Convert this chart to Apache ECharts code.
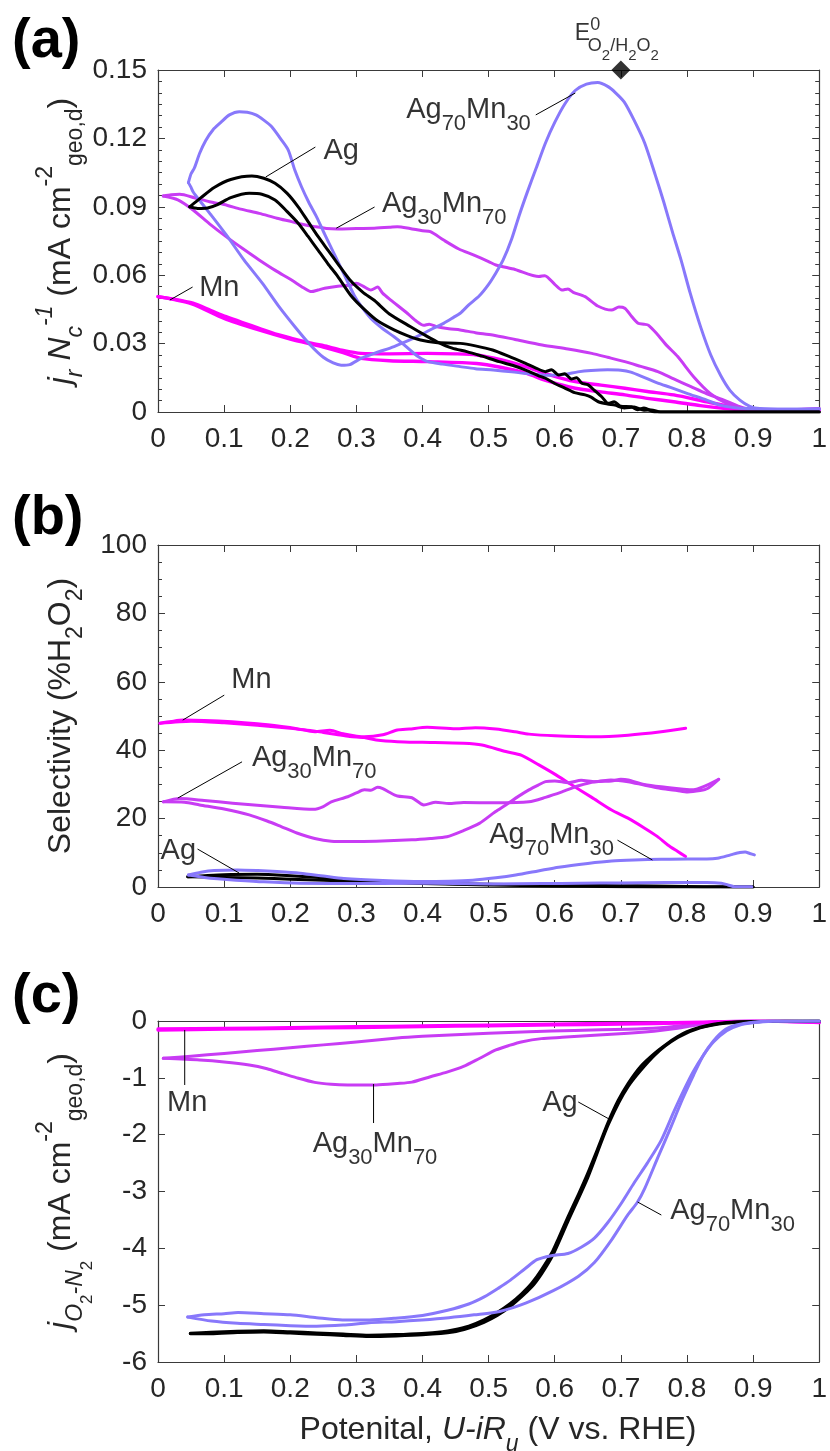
<!DOCTYPE html>
<html>
<head>
<meta charset="utf-8">
<script src="https://cdn.jsdelivr.net/npm/echarts@6/dist/echarts.min.js"></script>
<style>html,body{margin:0;padding:0;background:#fff;}#c{width:830px;height:1451px;}</style>
</head>
<body>
<div id="c"></div>
<script>
// ---------------- DATA ----------------
const xTicks = [0, 0.1, 0.2, 0.3, 0.4, 0.5, 0.6, 0.7, 0.8, 0.9, 1];

// Panel (a): ring current j_r N_c^-1 (mA cm^-2)
const a_Mn_1 = [[0,0.0506],[0.02,0.0497],[0.053,0.0477],[0.08,0.0445],[0.103,0.0418],[0.13,0.039],[0.153,0.0367],[0.18,0.034],[0.202,0.0323],[0.23,0.0303],[0.257,0.0287],[0.28,0.027],[0.307,0.0257],[0.35,0.0255],[0.407,0.0257],[0.45,0.0255],[0.482,0.025],[0.52,0.0228],[0.556,0.0199],[0.59,0.0165],[0.631,0.0133],[0.67,0.0118],[0.706,0.0104],[0.74,0.009],[0.78,0.0075],[0.83,0.0045],[0.88,0.0016],[0.92,0.0008],[1.0,0.0012]];
const a_Mn_2 = [[0,0.0506],[0.05,0.0475],[0.10,0.041],[0.15,0.0362],[0.20,0.032],[0.25,0.0285],[0.28,0.026],[0.307,0.0235],[0.35,0.0225],[0.407,0.0221],[0.482,0.0213],[0.52,0.0195],[0.556,0.017],[0.59,0.0135],[0.631,0.0104],[0.67,0.0088],[0.706,0.0075],[0.74,0.006],[0.78,0.0045],[0.82,0.0028],[0.855,0.0016],[0.90,0.0005],[1.0,0.0008]];
const a_Ag30Mn70_1 = [[0.008,0.0947],[0.02,0.0953],[0.033,0.0955],[0.055,0.094],[0.078,0.0922],[0.10,0.091],[0.125,0.089],[0.153,0.0871],[0.18,0.085],[0.202,0.0835],[0.22,0.0822],[0.237,0.0813],[0.255,0.0805],[0.272,0.0803],[0.30,0.0805],[0.327,0.0806],[0.35,0.081],[0.362,0.0813],[0.381,0.0805],[0.40,0.0795],[0.412,0.0791],[0.432,0.0754],[0.455,0.0715],[0.477,0.0689],[0.50,0.066],[0.511,0.0645],[0.54,0.0625],[0.576,0.0594],[0.585,0.0598],[0.60,0.056],[0.611,0.0535],[0.62,0.054],[0.628,0.0525],[0.646,0.0506],[0.665,0.0465],[0.686,0.0447],[0.697,0.046],[0.706,0.0455],[0.716,0.042],[0.726,0.0389],[0.735,0.0385],[0.742,0.038],[0.756,0.0338],[0.77,0.029],[0.786,0.0243],[0.81,0.0155],[0.835,0.0082],[0.86,0.0038],[0.89,0.0012],[0.92,0.0008],[0.96,0.001],[1.0,0.0015]];
const a_Ag30Mn70_2 = [[0.008,0.0947],[0.03,0.093],[0.053,0.0886],[0.078,0.0825],[0.103,0.0769],[0.128,0.0717],[0.153,0.0667],[0.178,0.062],[0.202,0.0579],[0.22,0.0545],[0.232,0.0528],[0.242,0.0535],[0.252,0.0543],[0.272,0.0552],[0.292,0.0557],[0.30,0.0565],[0.31,0.0552],[0.322,0.0535],[0.332,0.0548],[0.34,0.052],[0.352,0.0491],[0.377,0.0433],[0.39,0.040],[0.402,0.038],[0.41,0.0385],[0.422,0.0374],[0.44,0.0365],[0.457,0.036],[0.48,0.0348],[0.506,0.0338],[0.54,0.0318],[0.581,0.0294],[0.62,0.0276],[0.656,0.0257],[0.68,0.024],[0.706,0.0221],[0.73,0.02],[0.756,0.0177],[0.78,0.0145],[0.806,0.0111],[0.83,0.008],[0.855,0.0053],[0.88,0.0023],[0.90,0.001],[0.95,0.0008],[1.0,0.0012]];
const a_Ag70Mn30_cath = [[1.0,0.0013],[0.96,0.0012],[0.92,0.0012],[0.89,0.0015],[0.87,0.002],[0.85,0.003],[0.83,0.0052],[0.80,0.0082],[0.775,0.0108],[0.755,0.0128],[0.735,0.0152],[0.715,0.0175],[0.70,0.0183],[0.68,0.0185],[0.655,0.0182],[0.635,0.0176],[0.615,0.0165],[0.59,0.0161],[0.56,0.0168],[0.535,0.0176],[0.507,0.0184],[0.48,0.019],[0.457,0.0199],[0.43,0.021],[0.407,0.0222],[0.395,0.024],[0.385,0.0262],[0.37,0.030],[0.357,0.033],[0.34,0.0365],[0.322,0.041],[0.307,0.0465],[0.297,0.051],[0.282,0.060],[0.267,0.069],[0.252,0.078],[0.24,0.0855],[0.228,0.092],[0.217,0.0988],[0.207,0.106],[0.197,0.1149],[0.185,0.120],[0.172,0.1251],[0.16,0.128],[0.148,0.1303],[0.135,0.1315],[0.123,0.1317],[0.108,0.1303],[0.095,0.127],[0.083,0.1237],[0.072,0.119],[0.063,0.1135],[0.055,0.107],[0.05,0.1045],[0.046,0.1006]];
const a_Ag70Mn30_anod = [[0.046,0.1006],[0.05,0.0985],[0.053,0.0966],[0.065,0.092],[0.08,0.0865],[0.105,0.077],[0.13,0.0667],[0.158,0.0564],[0.183,0.0462],[0.207,0.0374],[0.23,0.0295],[0.25,0.024],[0.265,0.0215],[0.277,0.0205],[0.29,0.0208],[0.307,0.0235],[0.33,0.026],[0.357,0.0287],[0.38,0.0315],[0.397,0.0338],[0.415,0.0365],[0.432,0.0389],[0.447,0.0415],[0.457,0.0433],[0.47,0.047],[0.486,0.051],[0.50,0.056],[0.511,0.061],[0.522,0.0667],[0.535,0.076],[0.546,0.086],[0.558,0.096],[0.572,0.107],[0.586,0.118],[0.60,0.127],[0.615,0.135],[0.631,0.141],[0.648,0.1438],[0.665,0.1445],[0.68,0.1428],[0.692,0.140],[0.705,0.136],[0.72,0.128],[0.736,0.118],[0.752,0.104],[0.765,0.092],[0.778,0.079],[0.791,0.0667],[0.805,0.052],[0.821,0.037],[0.836,0.025],[0.851,0.016],[0.865,0.0095],[0.88,0.0052],[0.895,0.0025],[0.91,0.0015],[0.95,0.0012],[1.0,0.0013]];
const a_Ag_1 = [[0.048,0.090],[0.06,0.0893],[0.075,0.0895],[0.09,0.091],[0.11,0.094],[0.138,0.0959],[0.157,0.0955],[0.177,0.093],[0.195,0.088],[0.212,0.0828],[0.227,0.077],[0.242,0.071],[0.257,0.065],[0.272,0.0594],[0.292,0.051],[0.312,0.045],[0.332,0.040],[0.357,0.036],[0.377,0.0335],[0.397,0.0316],[0.42,0.0305],[0.457,0.0301],[0.48,0.029],[0.506,0.0272],[0.53,0.0245],[0.556,0.0213],[0.57,0.0195],[0.586,0.0177],[0.595,0.0185],[0.606,0.0162],[0.615,0.0168],[0.625,0.0145],[0.633,0.015],[0.641,0.0126],[0.65,0.012],[0.66,0.0095],[0.671,0.0067],[0.681,0.0038],[0.69,0.0045],[0.70,0.0025],[0.716,0.0023],[0.725,0.001],[0.735,0.0018],[0.751,0],[0.8,0],[1.0,0]];
const a_Ag_2 = [[0.048,0.090],[0.065,0.094],[0.085,0.0985],[0.11,0.102],[0.142,0.1035],[0.16,0.1025],[0.177,0.1003],[0.195,0.096],[0.212,0.090],[0.227,0.0835],[0.242,0.077],[0.257,0.071],[0.272,0.065],[0.29,0.058],[0.31,0.0525],[0.327,0.049],[0.35,0.043],[0.382,0.0374],[0.405,0.0335],[0.422,0.0308],[0.445,0.028],[0.467,0.0265],[0.49,0.0245],[0.516,0.0221],[0.536,0.0205],[0.556,0.0184],[0.575,0.016],[0.586,0.0148],[0.60,0.0125],[0.616,0.0104],[0.63,0.0085],[0.646,0.0075],[0.655,0.0065],[0.666,0.0045],[0.68,0.0035],[0.691,0.003],[0.705,0.0018],[0.72,0.0022],[0.735,0.0008],[0.746,0.0009],[0.76,0],[1.0,0]];
const a_E0 = [0.7, 0.15];

// Panel (b): selectivity (%H2O2)
const b_Mn_1 = [[0.003,47.9],[0.02,48.4],[0.038,48.8],[0.07,48.7],[0.112,48.3],[0.15,47.7],[0.187,46.9],[0.21,46.3],[0.237,45.4],[0.26,45.8],[0.28,44.8],[0.312,43.9],[0.34,44.5],[0.362,45.9],[0.38,46.2],[0.407,46.7],[0.45,46.3],[0.48,46.6],[0.511,46.2],[0.54,45.4],[0.561,44.7],[0.6,44.2],[0.661,43.9],[0.711,44.4],[0.761,45.4],[0.798,46.4]];
const b_Mn_2 = [[0.003,47.9],[0.05,48.5],[0.1,48.0],[0.15,47.3],[0.2,46.4],[0.23,45.8],[0.25,45.2],[0.27,44.6],[0.29,44.0],[0.312,43.7],[0.33,43.0],[0.362,42.5],[0.40,42.3],[0.462,42.0],[0.49,41.5],[0.526,39.6],[0.55,38.5],[0.576,35.7],[0.60,33.0],[0.626,29.8],[0.656,26.2],[0.686,22.5],[0.71,20.2],[0.736,17.2],[0.755,14.8],[0.771,12.3],[0.785,10.5],[0.798,8.9]];
const b_Ag30Mn70_1 = [[0.008,24.9],[0.033,25.9],[0.07,25.3],[0.113,24.5],[0.15,23.9],[0.187,23.3],[0.235,22.7],[0.25,23.5],[0.262,24.9],[0.287,26.4],[0.30,27.5],[0.312,28.4],[0.322,28.3],[0.332,29.2],[0.34,28.8],[0.35,27.7],[0.362,26.6],[0.384,26.1],[0.402,24.0],[0.42,24.8],[0.44,24.4],[0.462,24.7],[0.511,24.6],[0.561,24.9],[0.586,26.2],[0.611,27.8],[0.636,29.6],[0.661,30.8],[0.686,31.0],[0.70,31.5],[0.711,31.3],[0.735,30.0],[0.761,29.3],[0.81,28.4],[0.826,29.4],[0.848,31.5]];
const b_Ag30Mn70_2 = [[0.008,24.9],[0.04,24.8],[0.063,24.0],[0.10,22.8],[0.138,21.1],[0.165,19.3],[0.187,17.6],[0.21,15.8],[0.237,14.2],[0.262,13.4],[0.29,13.3],[0.33,13.4],[0.384,13.8],[0.412,14.2],[0.437,14.7],[0.462,16.5],[0.486,18.6],[0.51,22.0],[0.526,24.0],[0.545,26.5],[0.561,28.4],[0.575,29.8],[0.586,30.8],[0.60,31.0],[0.621,30.5],[0.64,31.2],[0.661,30.8],[0.685,31.3],[0.711,30.8],[0.735,29.8],[0.761,28.8],[0.785,28.2],[0.801,27.8],[0.82,28.2],[0.831,28.8],[0.848,31.5]];
const b_Ag70Mn30_1 = [[0.046,3.5],[0.065,4.3],[0.085,4.8],[0.12,5.0],[0.151,4.8],[0.18,4.5],[0.215,4.0],[0.25,3.2],[0.281,2.5],[0.34,1.9],[0.398,1.6],[0.44,1.7],[0.476,2.0],[0.511,2.7],[0.541,3.5],[0.575,4.7],[0.606,5.8],[0.65,6.9],[0.686,7.6],[0.72,7.9],[0.761,8.1],[0.801,8.2],[0.83,8.2],[0.846,8.4],[0.866,9.4],[0.88,10.1],[0.888,10.2],[0.895,9.8],[0.902,9.4]];
const b_Ag70Mn30_2 = [[0.046,3.5],[0.07,2.8],[0.09,2.4],[0.118,2.0],[0.16,1.5],[0.215,1.1],[0.3,1.0],[0.378,1.1],[0.45,1.0],[0.508,0.9],[0.58,1.0],[0.638,1.1],[0.7,1.2],[0.769,1.3],[0.83,1.3],[0.852,1.1],[0.862,0.6],[0.872,0.1],[0.898,0.1]];
const b_Ag_1 = [[0.045,3.0],[0.07,3.3],[0.1,3.6],[0.15,3.7],[0.2,3.3],[0.25,2.7],[0.3,2.0],[0.35,1.5],[0.4,1.2],[0.5,0.8],[0.6,0.6],[0.7,0.4],[0.75,0.3],[0.8,0.15],[0.85,0.05],[0.9,0]];
const b_Ag_2 = [[0.045,3.0],[0.1,2.8],[0.15,2.6],[0.2,2.3],[0.25,2.0],[0.3,1.6],[0.35,1.3],[0.4,1.0],[0.5,0.6],[0.6,0.3],[0.7,0.1],[0.8,0],[0.9,0]];

// Panel (c): disk current j_O2-N2 (mA cm^-2)
const c_Mn_1 = [[0,-0.16],[0.1,-0.145],[0.2,-0.13],[0.3,-0.115],[0.4,-0.1],[0.5,-0.085],[0.6,-0.07],[0.7,-0.055],[0.8,-0.035],[0.85,-0.02],[0.9,-0.005],[0.95,0],[1.0,-0.02]];
const c_Mn_2 = [[0,-0.14],[0.1,-0.13],[0.2,-0.115],[0.3,-0.1],[0.4,-0.085],[0.5,-0.07],[0.6,-0.055],[0.7,-0.04],[0.8,-0.025],[0.85,-0.01],[0.9,0],[1.0,-0.03]];
const c_Ag30Mn70_1 = [[0.008,-0.657],[0.05,-0.62],[0.1,-0.57],[0.15,-0.52],[0.2,-0.47],[0.25,-0.42],[0.3,-0.37],[0.362,-0.3],[0.4,-0.27],[0.45,-0.24],[0.5,-0.215],[0.561,-0.188],[0.63,-0.165],[0.711,-0.146],[0.76,-0.12],[0.786,-0.088],[0.81,-0.05],[0.835,-0.02],[0.87,-0.005],[0.9,0],[1.0,-0.02]];
const c_Ag30Mn70_2 = [[0.008,-0.657],[0.063,-0.686],[0.1,-0.72],[0.138,-0.774],[0.165,-0.84],[0.187,-0.92],[0.21,-1.0],[0.237,-1.08],[0.262,-1.115],[0.287,-1.126],[0.33,-1.125],[0.362,-1.1],[0.384,-1.075],[0.412,-0.98],[0.437,-0.9],[0.462,-0.8],[0.486,-0.66],[0.511,-0.51],[0.531,-0.43],[0.551,-0.364],[0.58,-0.31],[0.611,-0.287],[0.66,-0.25],[0.711,-0.217],[0.75,-0.18],[0.786,-0.129],[0.81,-0.08],[0.835,-0.04],[0.87,-0.01],[0.9,0],[1.0,-0.02]];
const c_Ag70Mn30_1 = [[0.045,-5.21],[0.07,-5.17],[0.1,-5.15],[0.121,-5.13],[0.16,-5.15],[0.2,-5.17],[0.24,-5.22],[0.279,-5.26],[0.32,-5.26],[0.359,-5.23],[0.4,-5.18],[0.438,-5.09],[0.47,-4.98],[0.494,-4.85],[0.515,-4.7],[0.533,-4.56],[0.555,-4.36],[0.573,-4.2],[0.595,-4.13],[0.62,-4.09],[0.64,-3.98],[0.66,-3.82],[0.68,-3.55],[0.70,-3.22],[0.72,-2.85],[0.74,-2.5],[0.761,-2.1],[0.78,-1.6],[0.796,-1.2],[0.81,-0.88],[0.825,-0.6],[0.84,-0.37],[0.86,-0.17],[0.88,-0.07],[0.9,-0.03],[0.93,-0.005],[1.0,0]];
const c_Ag70Mn30_2 = [[0.045,-5.21],[0.081,-5.28],[0.12,-5.32],[0.16,-5.34],[0.2,-5.36],[0.24,-5.37],[0.28,-5.35],[0.319,-5.31],[0.36,-5.29],[0.399,-5.26],[0.44,-5.22],[0.478,-5.17],[0.517,-5.11],[0.557,-4.96],[0.597,-4.75],[0.636,-4.49],[0.66,-4.25],[0.686,-3.85],[0.71,-3.42],[0.725,-3.19],[0.736,-2.95],[0.756,-2.4],[0.776,-1.86],[0.793,-1.38],[0.81,-0.95],[0.825,-0.6],[0.84,-0.35],[0.858,-0.15],[0.875,-0.07],[0.9,-0.02],[0.93,0],[1.0,0]];
const c_Ag_1 = [[0.049,-5.496],[0.08,-5.48],[0.12,-5.46],[0.16,-5.45],[0.2,-5.47],[0.24,-5.49],[0.28,-5.51],[0.319,-5.53],[0.36,-5.52],[0.399,-5.5],[0.43,-5.47],[0.446,-5.44],[0.47,-5.37],[0.493,-5.26],[0.513,-5.13],[0.533,-4.97],[0.55,-4.8],[0.565,-4.62],[0.58,-4.38],[0.597,-4.05],[0.606,-3.82],[0.62,-3.45],[0.636,-3.05],[0.65,-2.68],[0.665,-2.25],[0.681,-1.78],[0.696,-1.4],[0.711,-1.1],[0.73,-0.8],[0.751,-0.57],[0.77,-0.4],[0.786,-0.276],[0.80,-0.19],[0.82,-0.11],[0.84,-0.06],[0.86,-0.03],[0.9,-0.01],[0.95,0],[1.0,0]];
const c_Ag_2 = [[1.0,0],[0.9,-0.01],[0.86,-0.035],[0.82,-0.12],[0.786,-0.29],[0.751,-0.6],[0.711,-1.15],[0.681,-1.82],[0.65,-2.75],[0.62,-3.52],[0.597,-4.12],[0.58,-4.45],[0.565,-4.68],[0.533,-5.02],[0.513,-5.18],[0.493,-5.3],[0.47,-5.4],[0.446,-5.47],[0.4,-5.52],[0.36,-5.54],[0.319,-5.55],[0.28,-5.53],[0.24,-5.51],[0.2,-5.49],[0.16,-5.47],[0.12,-5.48],[0.08,-5.5],[0.049,-5.5]];

// Annotations (data coordinates)
const a_labels = [{t:'Ag', at:[0.277,0.1145]}, {t:'Ag30Mn70', at:[0.4329,0.0912]}, {t:'Mn', at:[0.0927,0.0544]}, {t:'Ag70Mn30', at:[0.4696,0.1325]}];
const a_leaders = [[[0.238,0.1162],[0.163,0.1031]], [[0.3275,0.0899],[0.2696,0.0806]], [[0.0523,0.0548],[0.0179,0.0491]], [[0.5713,0.1303],[0.6311,0.1399]]];
const b_labels = [{t:'Mn', at:[0.1413,60.5]}, {t:'Ag30Mn70', at:[0.2363,37.7]}, {t:'Ag', at:[0.0307,10.5]}, {t:'Ag70Mn30', at:[0.5952,15.2]}];
const b_leaders = [[[0.1002,56.1],[0.0374,48.8]], [[0.1271,36.6],[0.0299,26.0]], [[0.0598,11.1],[0.1226,4.1]], [[0.6949,13.7],[0.7477,7.9]]];
const c_labels = [{t:'Mn', at:[0.0441,-1.443]}, {t:'Ag30Mn70', at:[0.3282,-2.164]}, {t:'Ag', at:[0.6079,-1.443]}, {t:'Ag70Mn30', at:[0.8689,-3.343]}];
const c_leaders = [[[0.0404,-0.158],[0.0404,-1.126]], [[0.326,-1.109],[0.326,-1.795]], [[0.6356,-1.425],[0.6849,-1.742]], [[0.7612,-3.414],[0.7253,-3.185]]];

// ---------------- STYLE / BUILD ----------------
const F = '"Liberation Sans", Arial, Helvetica, sans-serif';
const TXT = '#262626';
const AX = '#3a3a3a';
const C_AG = '#000000', C_70 = '#8878fb', C_30 = '#c83cf4', C_MN = '#ff00ff';

const grids = [
  {left:158, top:70, width:669, height:342},
  {left:158, top:545, width:669, height:342},
  {left:158, top:1021, width:669, height:341}
];

function xAx(g, top) {
  return {type:'value', gridIndex:g, position: top ? 'top' : 'bottom', min:0, max:1, interval:0.1,
    axisLine:{show:true, onZero:false, lineStyle:{color:AX, width:1.2}},
    axisTick:{show:true, inside:true, length:7, lineStyle:{color:AX, width:1}},
    minorTick:{show:false},
    axisLabel:{show:!top, fontSize:28, fontFamily:F, color:TXT, margin:13,
      formatter: v => String(Math.round(v*10)/10)},
    splitLine:{show:false}};
}
function yAx(g, right, min, max, interval, minor, fmt) {
  return {type:'value', gridIndex:g, position: right ? 'right' : 'left', min, max, interval,
    axisLine:{show:true, onZero:false, lineStyle:{color:AX, width:1.2}},
    axisTick:{show:true, inside:true, length:7, lineStyle:{color:AX, width:1}},
    minorTick:{show: minor > 0, splitNumber: minor || 5, length:4, lineStyle:{color:AX, width:1}},
    axisLabel:{show:!right, fontSize:28, fontFamily:F, color:TXT, margin:11, formatter: fmt},
    splitLine:{show:false}, minorSplitLine:{show:false}};
}
const fmtA = v => (Math.abs(v) < 1e-9 ? '0' : v.toFixed(2));
const fmtB = v => String(Math.round(v));
const xAxis = [xAx(0,false), xAx(0,true), xAx(1,false), xAx(1,true), xAx(2,false), xAx(2,true)];
const yAxis = [
  yAx(0,false,0,0.15,0.03,6,fmtA), yAx(0,true,0,0.15,0.03,6,fmtA),
  yAx(1,false,0,100,20,4,fmtB), yAx(1,true,0,100,20,4,fmtB),
  yAx(2,false,-6,0,1,0,fmtB), yAx(2,true,-6,0,1,0,fmtB)
];

const series = [];
function addLine(data, color, width, p, z) {
  series.push({type:'line', xAxisIndex:2*p, yAxisIndex:2*p, data, symbol:'none', showSymbol:false,
    smooth:0.25, lineStyle:{color, width, cap:'round', join:'round'}, silent:true, animation:false, z: z || 3});
}
function addLeader(pts, p) {
  series.push({type:'line', xAxisIndex:2*p, yAxisIndex:2*p, data:pts, symbol:'none', showSymbol:false,
    lineStyle:{color:'#000', width:1}, silent:true, animation:false, z:6});
}
const annRich = {
  m:{fontSize:29, fontFamily:F, color:'#000'},
  s:{fontSize:22, fontFamily:F, color:'#000', padding:[28,0,0,0]}
};
function richName(t) {
  const m = t.match(/^([A-Za-z]+)(\d+)?([A-Za-z]+)?(\d+)?$/);
  let s = '{m|' + m[1] + '}';
  if (m[2]) s += '{s|' + m[2] + '}';
  if (m[3]) s += '{m|' + m[3] + '}';
  if (m[4]) s += '{s|' + m[4] + '}';
  return s;
}
function addLabels(list, p) {
  series.push({type:'scatter', xAxisIndex:2*p, yAxisIndex:2*p, symbolSize:1, clip:false, silent:true, animation:false, z:7,
    itemStyle:{color:'rgba(0,0,0,0)'},
    label:{show:true, position:'inside', align:'center', verticalAlign:'middle', color:'#000', textBorderWidth:0, rich:annRich},
    data: list.map(l => ({value:l.at, label:{formatter: richName(l.t)}}))});
}

// panel a
addLine(a_Mn_1, C_MN, 3.4, 0); addLine(a_Mn_2, C_MN, 3.4, 0);
addLine(a_Ag30Mn70_1, C_30, 3, 0); addLine(a_Ag30Mn70_2, C_30, 3, 0);
addLine(a_Ag70Mn30_cath, C_70, 3, 0); addLine(a_Ag70Mn30_anod, C_70, 3, 0);
addLine(a_Ag_1, C_AG, 3, 0, 4); addLine(a_Ag_2, C_AG, 3, 0, 4);
a_leaders.forEach(l => addLeader(l, 0));
addLabels(a_labels, 0);
// E0 marker
series.push({type:'scatter', xAxisIndex:0, yAxisIndex:0, clip:false, silent:true, animation:false, z:8,
  symbol:'diamond', symbolSize:19, itemStyle:{color:'#000'},
  data:[
    {value:a_E0},
    {value:a_E0, symbolSize:0, label:{show:true, position:'inside', align:'left', verticalAlign:'middle', offset:[-46,-36],
      color:'#000', textBorderWidth:0, formatter:'{e|E}{z|0}',
      rich:{e:{fontSize:23, fontFamily:F, color:'#000'}, z:{fontSize:18, fontFamily:F, color:'#000', padding:[0,0,17,0]}}}},
    {value:a_E0, symbolSize:0, label:{show:true, position:'inside', align:'left', verticalAlign:'middle', offset:[-33,-24],
      color:'#000', textBorderWidth:0, formatter:'{o|O}{t|2}{o|/H}{t|2}{o|O}{t|2}',
      rich:{o:{fontSize:18, fontFamily:F, color:'#000'}, t:{fontSize:15, fontFamily:F, color:'#000', padding:[20,0,0,0]}}}}
  ]});

// panel b
addLine(b_Mn_1, C_MN, 3, 1); addLine(b_Mn_2, C_MN, 3, 1);
addLine(b_Ag30Mn70_1, C_30, 3, 1); addLine(b_Ag30Mn70_2, C_30, 3, 1);
addLine(b_Ag_1, C_AG, 3, 1); addLine(b_Ag_2, C_AG, 3, 1);
addLine(b_Ag70Mn30_1, C_70, 3, 1, 4); addLine(b_Ag70Mn30_2, C_70, 3, 1, 4);
b_leaders.forEach(l => addLeader(l, 1));
addLabels(b_labels, 1);

// panel c
addLine(c_Ag30Mn70_1, C_30, 3, 2); addLine(c_Ag30Mn70_2, C_30, 3, 2);
addLine(c_Mn_1, C_MN, 3.2, 2); addLine(c_Mn_2, C_MN, 3.2, 2);
addLine(c_Ag_1, C_AG, 3.2, 2); addLine(c_Ag_2, C_AG, 3.2, 2);
addLine(c_Ag70Mn30_1, C_70, 3, 2, 4); addLine(c_Ag70Mn30_2, C_70, 3, 2, 4);
c_leaders.forEach(l => addLeader(l, 2));
addLabels(c_labels, 2);

// titles (real text)
const tRich = {
  m:{fontSize:32, fontFamily:F, fill:TXT},
  i:{fontSize:32, fontFamily:F, fontStyle:'italic', fill:TXT},
  sb:{fontSize:23, fontFamily:F, fill:TXT, padding:[30,0,0,0]},
  sp:{fontSize:23, fontFamily:F, fill:TXT, padding:[0,0,30,0]},
  isb:{fontSize:23, fontFamily:F, fontStyle:'italic', fill:TXT, padding:[30,0,0,0]},
  isp:{fontSize:23, fontFamily:F, fontStyle:'italic', fill:TXT, padding:[0,0,30,0]},
  ssb:{fontSize:17, fontFamily:F, fill:TXT, padding:[52,0,0,0]}
};
function vTitle(text, cx, cy) {
  return {type:'text', x:cx, y:cy, rotation:Math.PI/2, silent:true,
    style:{text, rich:tRich, align:'center', verticalAlign:'middle', fontSize:32, fontFamily:F, fill:TXT}};
}
function panelLabel(text, y) {
  return {type:'text', x:12, y, silent:true,
    style:{text, fontSize:56, fontWeight:'bold', fontFamily:F, fill:'#000', align:'left', verticalAlign:'middle'}};
}
const graphic = [
  panelLabel('(a)', 42), panelLabel('(b)', 519), panelLabel('(c)', 997),
  vTitle('{i|j}{isb|r}{m| }{i|N}{isb|c}{isp|-1}{m| (mA cm}{sp|-2}{sb|geo,d}{m|)}', 61, 241),
  vTitle('{m|Selectivity (%H}{sb|2}{m|O}{sb|2}{m|)}', 61, 716),
  vTitle('{i|j}{isb|O}{ssb|2}{isb|-N}{ssb|2}{m| (mA cm}{sp|-2}{sb|geo,d}{m|)}', 61, 1191),
  {type:'text', x:498, y:1430, silent:true,
    style:{text:'{m|Potenital, }{i|U-iR}{isb|u}{m| (V vs. RHE)}', rich:tRich, align:'center', verticalAlign:'middle', fontSize:32, fontFamily:F, fill:TXT}}
];

const chart = echarts.init(document.getElementById('c'), null, {renderer:'canvas'});
chart.setOption({
  animation:false,
  backgroundColor:'#ffffff',
  grid: grids,
  xAxis, yAxis, series, graphic
});
</script>
</body>
</html>
